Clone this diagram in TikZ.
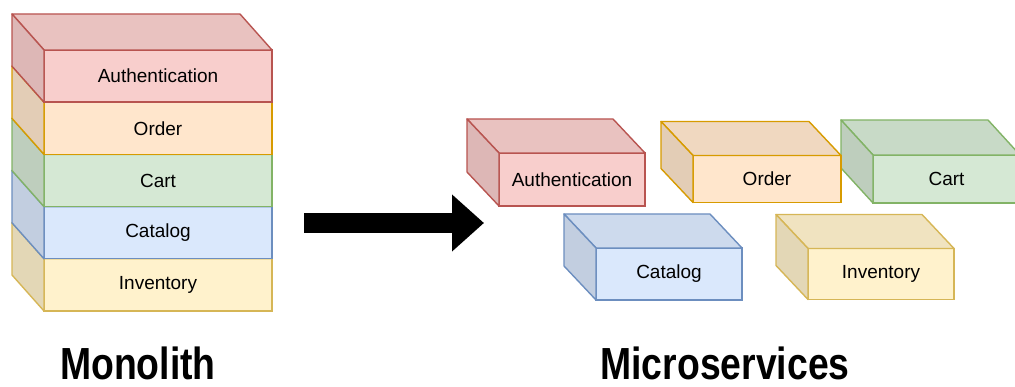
\documentclass[tikz,border=0pt]{standalone}
\usepackage{fontspec}
\setmainfont{Liberation Sans}
\usepackage{tikz}
\usetikzlibrary{arrows.meta,positioning}

\definecolor{redfill}{HTML}{F8CECC}
\definecolor{redline}{HTML}{B85450}
\definecolor{orangefill}{HTML}{FFE6CC}
\definecolor{orangeline}{HTML}{D79B00}
\definecolor{greenfill}{HTML}{D5E8D4}
\definecolor{greenline}{HTML}{82B366}
\definecolor{bluefill}{HTML}{DAE8FC}
\definecolor{blueline}{HTML}{6C8EBF}
\definecolor{yellowfill}{HTML}{FFF2CC}
\definecolor{yellowline}{HTML}{D6B656}

% top and left faces of a box whose front face is node #1
\newcommand{\cubefaces}[4]{%
  \filldraw[fill=#2!94!black, draw=#3, line width=1.4pt, line join=round]
    (#1.north west) -- ++(-32,-#4) -- ([shift={(-32,-#4)}]#1.north east) -- (#1.north east) -- cycle;
  \filldraw[fill=#2!89!black, draw=#3, line width=1.4pt, line join=round]
    (#1.north west) -- ++(-32,-#4) -- ([shift={(-32,-#4)}]#1.south west) -- (#1.south west) -- cycle;
}

\begin{document}
\begin{tikzpicture}[x=1pt,y=-1pt]
\tikzstyle{block}=[draw, line width=1.4pt, rectangle, outer sep=0pt, inner sep=0pt, font=\fontsize{19}{22}\selectfont]
\tikzstyle{layer}=[block, minimum width=228pt, minimum height=52.2pt]
\tikzstyle{title}=[anchor=base, inner sep=0pt, font=\fontsize{45}{48}\selectfont\bfseries]

\useasboundingbox (0,0) rectangle (1015,387);
\clip (0,0) rectangle (1015,387);

% monolith, from the bottom up
\node[layer, fill=yellowfill, draw=yellowline] (inv) at (158,284.9) {Inventory};
\cubefaces{inv}{yellowfill}{yellowline}{36}
\node[layer, fill=bluefill, draw=blueline, above=0pt of inv] (cat) {Catalog};
\cubefaces{cat}{bluefill}{blueline}{36}
\node[layer, fill=greenfill, draw=greenline, above=0pt of cat] (cart) {Cart};
\cubefaces{cart}{greenfill}{greenline}{36}
\node[layer, fill=orangefill, draw=orangeline, above=0pt of cart] (ord) {Order};
\cubefaces{ord}{orangefill}{orangeline}{36}
\node[layer, fill=redfill, draw=redline, above=0pt of ord] (auth) {Authentication};
\cubefaces{auth}{redfill}{redline}{36}

% microservices
\node[block, fill=redfill, draw=redline, minimum width=146pt, minimum height=53pt] (mauth) at (572,179.5) {Authentication};
\cubefaces{mauth}{redfill}{redline}{34}
\node[block, fill=greenfill, draw=greenline, minimum width=147pt, minimum height=48pt] (mcart) at (946.5,179) {Cart};
\cubefaces{mcart}{greenfill}{greenline}{35}
\node[block, fill=orangefill, draw=orangeline, minimum width=148pt, minimum height=47pt, left=32pt of mcart] (mord) {Order};
\cubefaces{mord}{orangefill}{orangeline}{34}
\node[block, fill=bluefill, draw=blueline, minimum width=146pt, minimum height=52pt] (mcat) at (669,274) {Catalog};
\cubefaces{mcat}{bluefill}{blueline}{34}
\node[block, fill=yellowfill, draw=yellowline, minimum width=146pt, minimum height=51pt, right=66pt of mcat] (minv) {Inventory};
\cubefaces{minv}{yellowfill}{yellowline}{34}

% titles
\node[title] (mono) at (138,379) {\scalebox{0.83}[1]{Monolith}};
\node[title] (micro) at (725,379) {\scalebox{0.83}[1]{Microservices}};

% big arrow
\coordinate (from) at (304,223);
\coordinate (to) at (484,223);
\draw[line width=20pt, -{Triangle[length=32pt,width=55pt]}] (from) -- (to);
\end{tikzpicture}
\end{document}
